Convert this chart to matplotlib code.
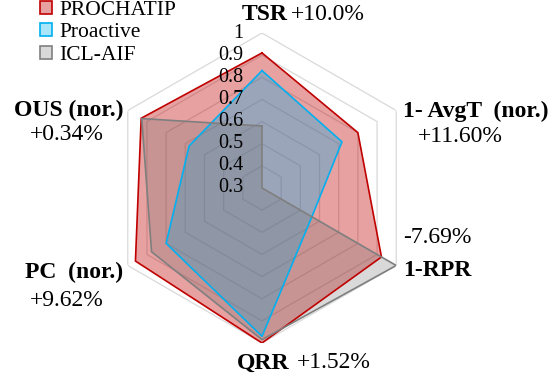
import numpy as np
import matplotlib
matplotlib.use("Agg")
import matplotlib.pyplot as plt
from matplotlib.patches import Patch

plt.rcParams['font.family'] = ['Liberation Serif', 'DejaVu Serif']

# axes order clockwise from top
categories = ["TSR", "1- AvgT  (nor.)", "1-RPR", "QRR", "PC  (nor.)", "OUS (nor.)"]
prochatip = [0.91, 0.80, 0.923, 1.00, 0.96, 0.93]
proactive = [0.83, 0.717, 0.56, 0.97, 0.80, 0.68]
icl_aif = [0.58, 0.30, 1.00, 0.985, 0.876, 0.927]
r_ticks = [0.3, 0.4, 0.5, 0.6, 0.7, 0.8, 0.9, 1.0]
r_tick_labels = ["0.3", "0.4", "0.5", "0.6", "0.7", "0.8", "0.9", "1"]
gains = ["+10.0%", "+11.60%", "-7.69%", "+1.52%", "+9.62%", "+0.34%"]

W, H = 558, 379
fig = plt.figure(figsize=(W / 100, H / 100), dpi=100)

# centre (262, 188) px, radius 155 px
cx, cy, rad = 262, 188, 155
ax = fig.add_axes([(cx - rad) / W, (H - cy - rad) / H, 2 * rad / W, 2 * rad / H],
                  projection="polar")
ax.set_theta_offset(np.pi / 2)
ax.set_theta_direction(-1)
ax.set_ylim(r_ticks[0], r_ticks[-1])
ax.grid(False)
ax.spines["polar"].set_visible(False)
ax.set_xticks([])
ax.set_yticks([])
ax.patch.set_alpha(0)

n = len(categories)
theta = np.linspace(0, 2 * np.pi, n, endpoint=False)
theta_c = np.append(theta, theta[0])

# hexagon grid
for lv in r_ticks[1:]:
    ax.plot(theta_c, [lv] * (n + 1), color="#d9d9d9", lw=0.9, zorder=1)

series = [
    ("PROCHATIP", prochatip, "#c00000", "#c00000", 0.37),
    ("Proactive", proactive, "#00b0f0", "#00b0f0", 0.33),
    ("ICL-AIF", icl_aif, "#7f7f7f", "#6d6d6d", 0.26),
]
handles = []
for i, (name, vals, ec, fc, a) in enumerate(series):
    v = np.append(vals, vals[0])
    ax.fill(theta_c, v, color=fc, alpha=a, lw=0, zorder=2 + i)
    ax.plot(theta_c, v, color=ec, lw=1.2, zorder=5 + i)
    handles.append(Patch(facecolor=matplotlib.colors.to_rgba(fc, a), edgecolor=ec, lw=1.2))

for lv, lab in zip(r_ticks, r_tick_labels):
    ax.annotate(lab, (0, lv), xytext=(-13.5, 0), textcoords="offset points",
                ha="right", va="center", fontsize=14.5, zorder=10)

fig.legend(handles, [s[0] for s in series], loc="upper left",
           bbox_to_anchor=(40 / W, 1 - 1 / H), frameon=False, fontsize=15.5,
           handlelength=0.55, handleheight=0.55, handletextpad=0.35,
           labelspacing=0.15, borderpad=0, borderaxespad=0)


def px_text(x, y, s, bold=False, size=17):
    fig.text(x / W, 1 - y / H, s, ha="left", va="center", fontsize=size,
             fontweight="bold" if bold else "normal")


# category labels and gains
px_text(242, 14, categories[0], bold=True)
px_text(291, 14, gains[0])
px_text(403, 111, categories[1], bold=True)
px_text(418, 137, gains[1])
px_text(403, 237, gains[2])
px_text(403, 270, categories[2], bold=True)
px_text(237, 363, categories[3], bold=True)
px_text(297, 363, gains[3])
px_text(25, 272, categories[4], bold=True)
px_text(30, 300, gains[4])
px_text(14, 110, categories[5], bold=True)
px_text(30, 135, gains[5])

fig.savefig("out.png", dpi=100)
